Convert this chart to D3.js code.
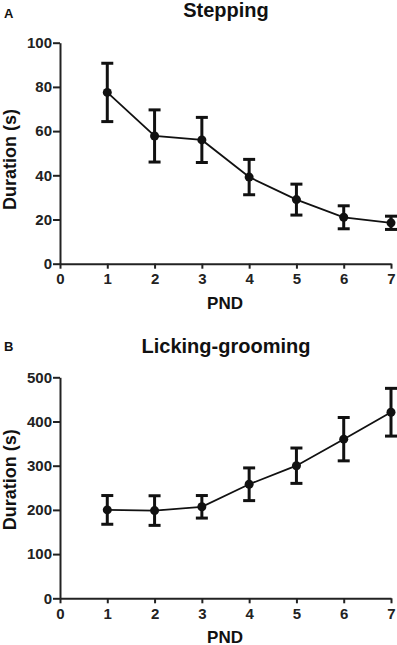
<!DOCTYPE html>
<html>
<head>
    <title>Stepping and Licking-grooming by PND</title>
    <script src="https://d3js.org/d3.v7.min.js"></script>
    <style>
        body {
            margin: 0;
            padding: 0;
            background: #fff;
        }
        svg {
            display: block;
            font-family: "Liberation Sans", Arial, sans-serif;
            font-weight: bold;
        }
        .axis path, .axis line {
            stroke: #222;
            stroke-width: 2px;
        }
        .axis text {
            font-size: 15px;
            font-weight: bold;
            fill: #222;
            font-family: "Liberation Sans", Arial, sans-serif;
        }
    </style>
</head>
<body>
    <div id="vis-container"></div>

    <script>
        const width = 397;
        const height = 645;

        // PND days
        const days = [1, 2, 3, 4, 5, 6, 7];
        const xTicks = [0, 1, 2, 3, 4, 5, 6, 7];

        // Stepping duration (s): mean and SEM
        const steppingMean = [77.5, 57.8, 56, 39.2, 29, 21, 18.5];
        const steppingErr = [13.2, 11.8, 10.2, 8, 7, 5.2, 3];
        const steppingTicks = [0, 20, 40, 60, 80, 100];

        // Licking-grooming duration (s): mean and SEM
        const groomingMean = [200, 198.5, 207, 258, 300, 360, 421];
        const groomingErr = [32.5, 33.5, 25.5, 37, 40, 49, 54];
        const groomingTicks = [0, 100, 200, 300, 400, 500];

        const svg = d3.select('#vis-container')
            .append('svg')
            .attr('width', width)
            .attr('height', height);

        function drawPanel(opts) {
            const x = d3.scaleLinear().domain([0, 7]).range([60, 391]);
            const y = d3.scaleLinear().domain([0, opts.ymax]).range([opts.y0, opts.y1]);
            const g = svg.append('g');

            // axes
            g.append('g')
                .attr('class', 'axis')
                .attr('transform', `translate(0,${opts.y0})`)
                .call(d3.axisBottom(x).tickValues(xTicks).tickFormat(d3.format('d'))
                    .tickSize(5).tickSizeOuter(0).tickPadding(4))
                .selectAll('text').attr('dy', '0.75em');
            g.append('g')
                .attr('class', 'axis')
                .attr('transform', 'translate(60,0)')
                .call(d3.axisLeft(y).tickValues(opts.yTicks).tickFormat(d3.format('d'))
                    .tickSize(7).tickSizeOuter(0).tickPadding(1));

            const pts = days.map((d, i) => ({ d, m: opts.mean[i], e: opts.err[i] }));

            // connecting line
            g.append('path')
                .datum(pts)
                .attr('fill', 'none')
                .attr('stroke', '#111')
                .attr('stroke-width', 1.8)
                .attr('d', d3.line().x(p => x(p.d)).y(p => y(p.m)));

            // error bars
            const eb = g.selectAll('.err')
                .data(pts)
                .join('g')
                .attr('stroke', '#111')
                .attr('stroke-width', 3);
            eb.append('line')
                .attr('x1', p => x(p.d)).attr('x2', p => x(p.d))
                .attr('y1', p => y(p.m - p.e)).attr('y2', p => y(p.m + p.e));
            eb.append('line')
                .attr('x1', p => x(p.d) - 6).attr('x2', p => x(p.d) + 6)
                .attr('y1', p => y(p.m + p.e)).attr('y2', p => y(p.m + p.e));
            eb.append('line')
                .attr('x1', p => x(p.d) - 6).attr('x2', p => x(p.d) + 6)
                .attr('y1', p => y(p.m - p.e)).attr('y2', p => y(p.m - p.e));

            // markers
            g.selectAll('circle')
                .data(pts)
                .join('circle')
                .attr('cx', p => x(p.d))
                .attr('cy', p => y(p.m))
                .attr('r', 4.5)
                .attr('fill', '#111');

            // title
            g.append('text')
                .attr('x', 226)
                .attr('y', opts.titleY)
                .attr('text-anchor', 'middle')
                .attr('font-size', 20)
                .attr('fill', '#111')
                .text(opts.title);

            // panel letter
            g.append('text')
                .attr('x', 4)
                .attr('y', opts.letterY)
                .attr('font-size', 13)
                .attr('fill', '#111')
                .text(opts.letter);

            // x label
            g.append('text')
                .attr('x', 225)
                .attr('y', opts.xLabelY)
                .attr('text-anchor', 'middle')
                .attr('font-size', 17)
                .attr('fill', '#111')
                .text('PND');

            // y label
            g.append('text')
                .attr('transform', `translate(15.5,${opts.yLabelMid}) rotate(-90)`)
                .attr('text-anchor', 'middle')
                .attr('font-size', 18)
                .attr('fill', '#111')
                .text('Duration (s)');
        }

        drawPanel({
            mean: steppingMean, err: steppingErr, ymax: 100, yTicks: steppingTicks,
            y0: 263.7, y1: 42.7, title: 'Stepping', titleY: 17, letter: 'A', letterY: 18.3,
            xLabelY: 309.3, yLabelMid: 159.5
        });

        drawPanel({
            mean: groomingMean, err: groomingErr, ymax: 500, yTicks: groomingTicks,
            y0: 598.3, y1: 377.3, title: 'Licking-grooming', titleY: 353.3, letter: 'B', letterY: 350.7,
            xLabelY: 642.5, yLabelMid: 479.7
        });
    </script>
</body>
</html>
